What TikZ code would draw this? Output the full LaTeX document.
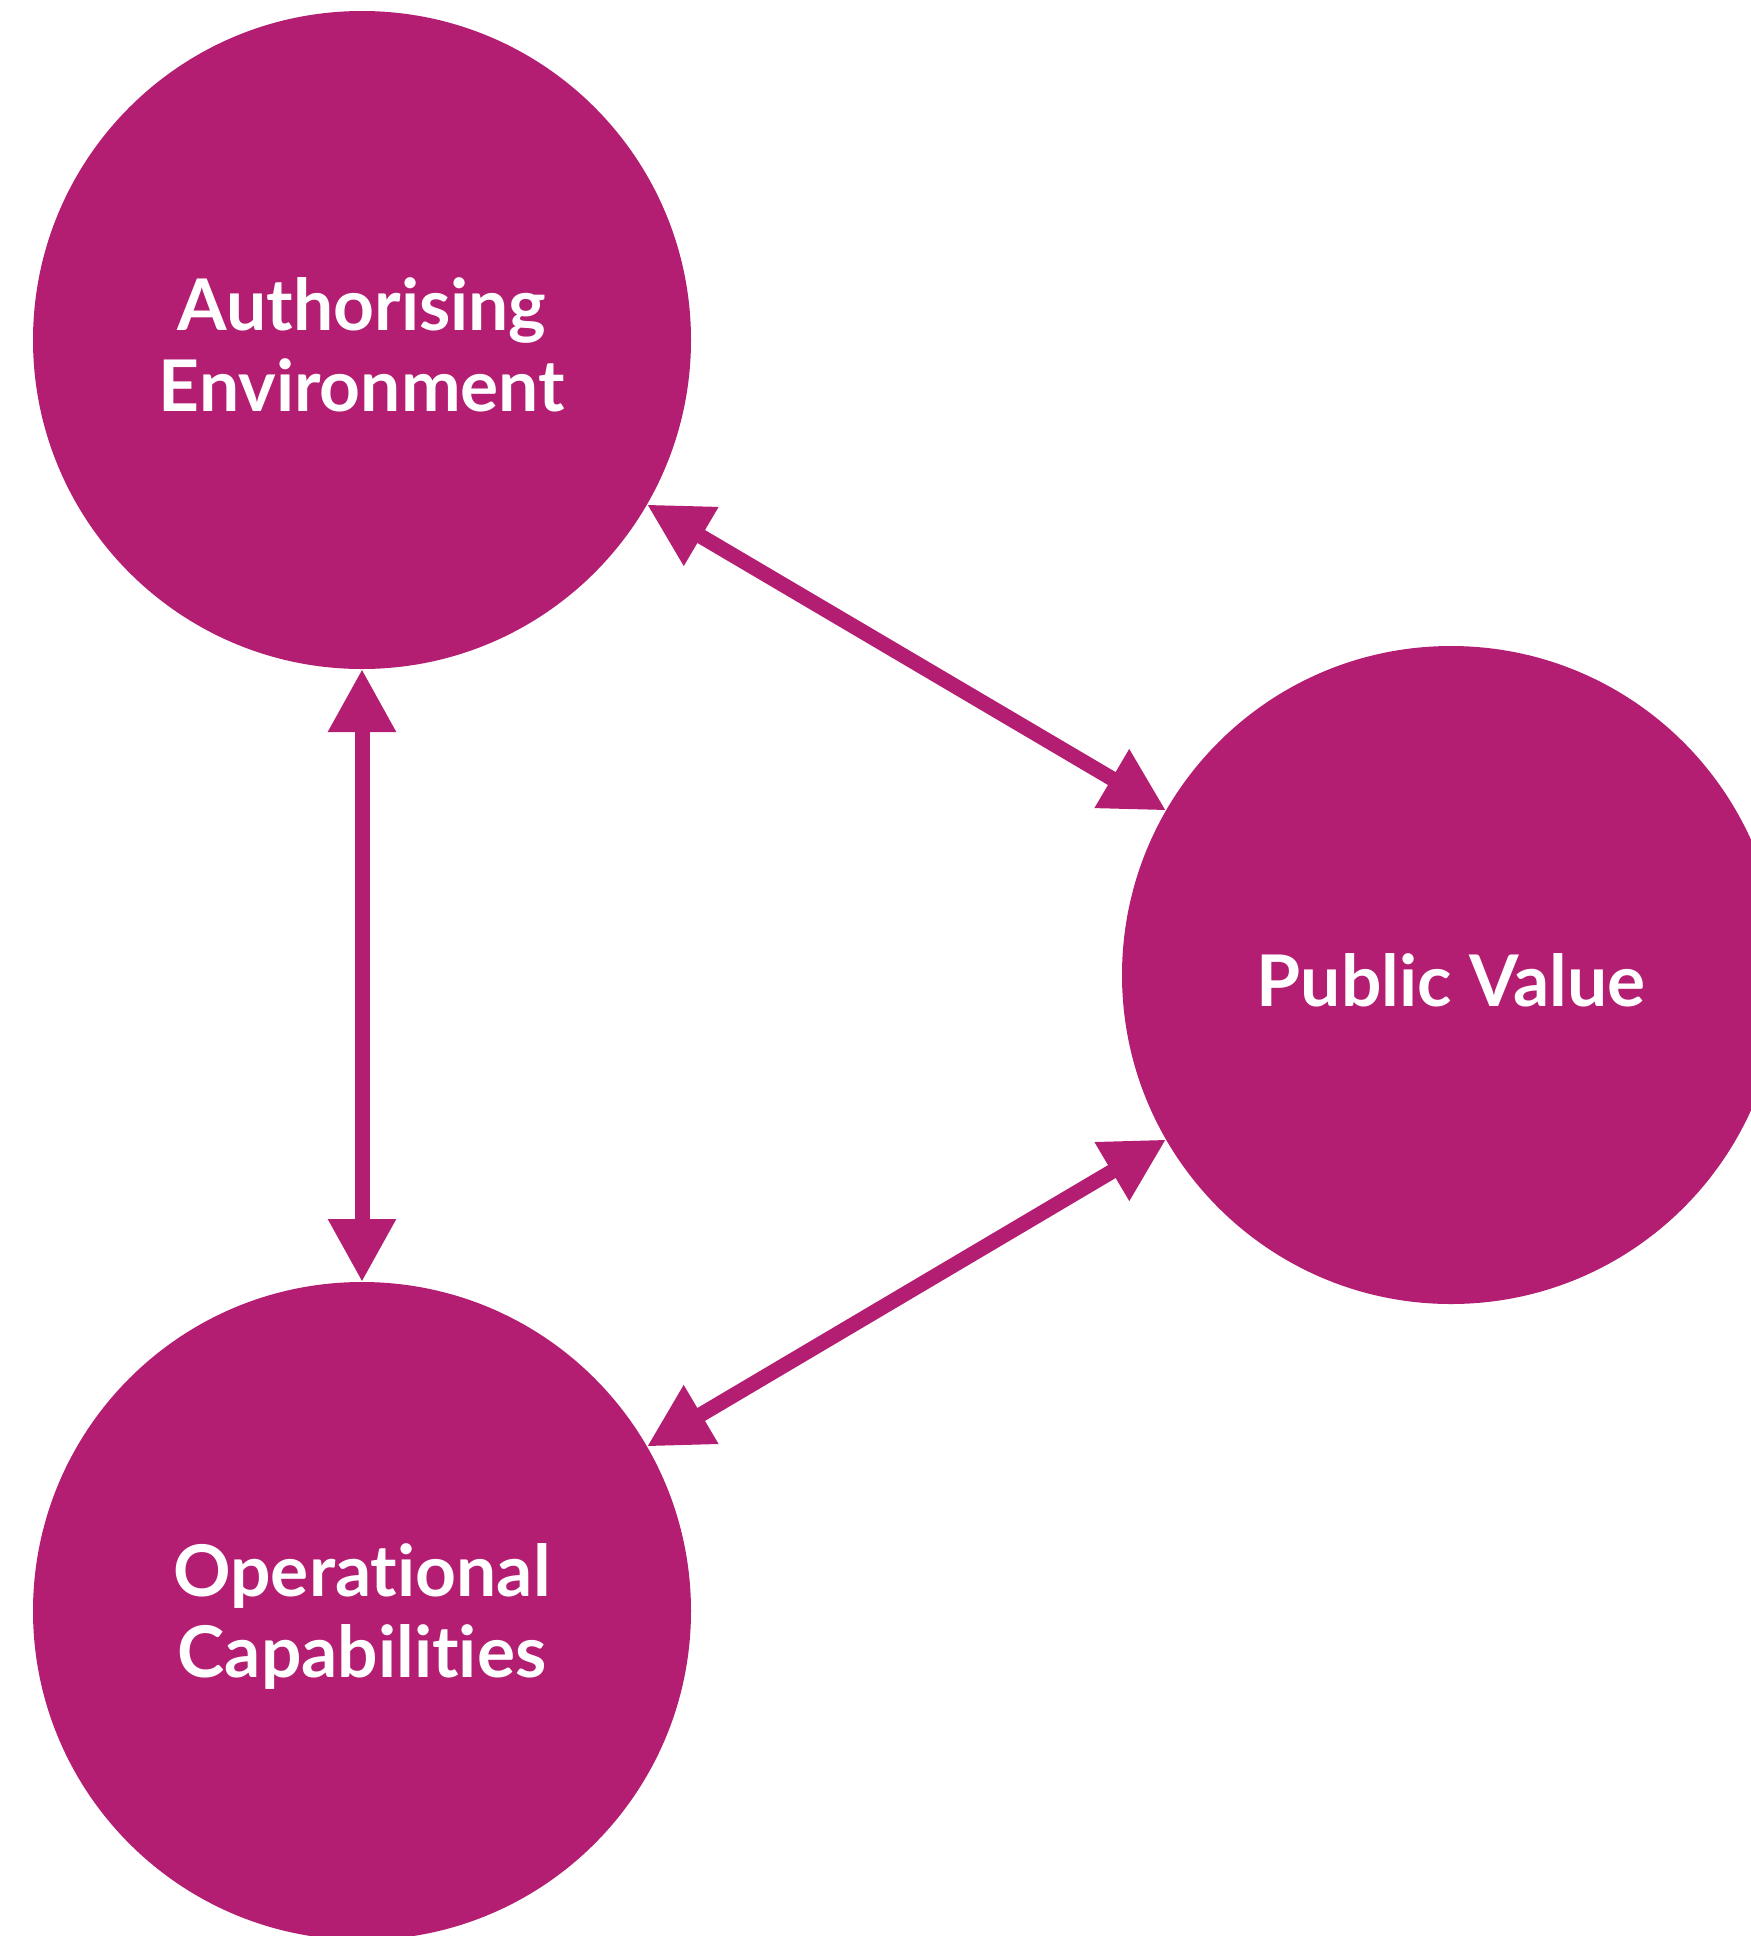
\documentclass[tikz,border=0pt]{standalone}
\usepackage{fontspec}
\setmainfont{Lato}[Ligatures=NoCommon]
\usepackage{tikz}
\usetikzlibrary{arrows.meta}
\definecolor{pvmagenta}{RGB}{179,30,114}
\tikzstyle{bigvertex}=[circle,fill=pvmagenta,minimum size=658pt,inner sep=0pt,outer sep=0pt]
\tikzstyle{vertexlabel}=[text=white,align=center,inner sep=0pt,yshift=-5pt,font=\fontsize{71.3}{81}\selectfont\bfseries]
\tikzstyle{edge} = [draw,line width=15pt,pvmagenta,{Triangle[length=63pt,width=64pt]}-{Triangle[length=63pt,width=64pt]}]
\begin{document}
\begin{tikzpicture}[x=1pt,y=1pt]

    \useasboundingbox (0,0) rectangle (1751,-1936);

    % First we draw the vertices
    \foreach \pos/\name/\label in {{(362,-340)/AE/{Authorising\\Environment}}, {(1451,-975)/PV/{Public Value}}, {(362,-1611)/OC/{Operational\\Capabilities}}}
    {
        \node[bigvertex] (\name) at \pos {};
        \node[vertexlabel] (\name text) at (\name) {\label};
    }

    % Connect vertices with double arrows
  \foreach \source/ \dest in {AE/OC, AE.-30/PV.150, OC.30/PV.-150}
          \path[edge] (\source) -- (\dest);

\end{tikzpicture}
\end{document}
